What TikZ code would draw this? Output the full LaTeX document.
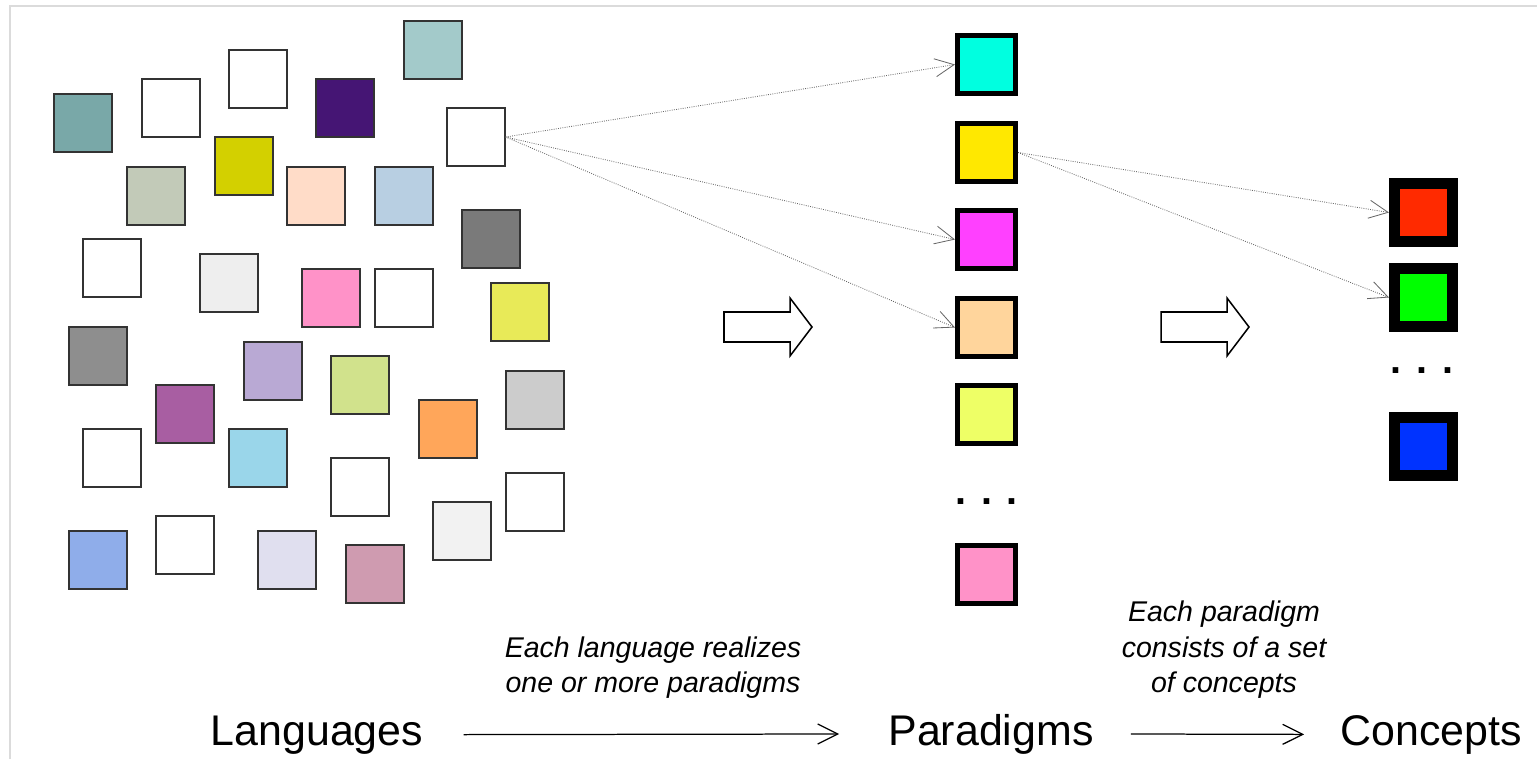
\documentclass[tikz,border=0pt]{standalone}
\usepackage{fontspec}
\setmainfont{Liberation Sans}
\usetikzlibrary{arrows.meta}

% colours of the language squares
\definecolor{lgteal}{HTML}{79A8A8}
\definecolor{lgpurple}{HTML}{451574}
\definecolor{lgmint}{HTML}{A3CACA}
\definecolor{lgsage}{HTML}{C2CAB8}
\definecolor{lgolive}{HTML}{D3D000}
\definecolor{lgsalmon}{HTML}{FFDCC8}
\definecolor{lgsteel}{HTML}{B8CFE2}
\definecolor{lggray}{HTML}{7A7A7A}
\definecolor{lgsilver}{HTML}{EEEEEE}
\definecolor{lgpink}{HTML}{FF92C8}
\definecolor{lglemon}{HTML}{E8EA58}
\definecolor{lgstone}{HTML}{8E8E8E}
\definecolor{lgplum}{HTML}{A85EA2}
\definecolor{lglilac}{HTML}{B9A9D4}
\definecolor{lglime}{HTML}{D1E28C}
\definecolor{lgorange}{HTML}{FFA65A}
\definecolor{lglight}{HTML}{CCCCCC}
\definecolor{lgsky}{HTML}{9AD6EA}
\definecolor{lgwhite}{HTML}{F2F2F2}
\definecolor{lgblue}{HTML}{8FADEA}
\definecolor{lglavender}{HTML}{E0DFEF}
\definecolor{lgrose}{HTML}{CF9BB0}
% paradigms and concepts
\definecolor{pacyan}{HTML}{00FFE0}
\definecolor{payellow}{HTML}{FFE800}
\definecolor{pamagenta}{HTML}{FF40FF}
\definecolor{papeach}{HTML}{FFD59C}
\definecolor{palime}{HTML}{EEFF66}
\definecolor{papink}{HTML}{FF92C8}
\definecolor{cored}{HTML}{FF2A00}
\definecolor{cogreen}{HTML}{00FF00}
\definecolor{coblue}{HTML}{0033FF}

\newcommand\biglbl{\fontsize{31}{37}\selectfont}
\newcommand\notelbl{\fontsize{20.6}{25.6}\selectfont\itshape}
\newcommand\dotlbl{\fontsize{28.5}{30}\selectfont\bfseries}

\tikzset{
  lang/.style={draw=black!80, line width=0.8pt, minimum size=0.58in, inner sep=0},
  para/.style={draw=black, line width=0.05in, minimum size=0.58in, inner sep=0},
  conc/.style={draw=black, line width=0.11in, minimum size=0.58in, inner sep=0},
  link/.style={densely dotted, black!60, line width=0.6pt, -{Straight Barb[length=0.19in,width=0.18in]}},
  flow/.style={line width=0.9pt, -{Straight Barb[length=0.2in,width=0.2in]}},
  bigarrow/.style={draw, line width=1.1pt, fill=white, line join=miter},
}

\begin{document}
\begin{tikzpicture}[x=0.01in, y=-0.01in]

\useasboundingbox (0,0) rectangle (1537,759);
\draw[black!14, line width=1.5pt] (10,759) -- (10,6) -- (1537,6);

% languages
\node[lang,fill=lgteal] (lang1) at (83,123) {};
\node[lang,fill=white] (lang2) at (171,108) {};
\node[lang,fill=white] (lang3) at (258,79) {};
\node[lang,fill=lgpurple] (lang4) at (345,108) {};
\node[lang,fill=lgmint] (lang5) at (433,50) {};
\node[lang,fill=white] (lang6) at (476,137) {};
\node[lang,fill=lgsage] (lang7) at (156,196) {};
\node[lang,fill=lgolive] (lang8) at (244,166) {};
\node[lang,fill=lgsalmon] (lang9) at (316,196) {};
\node[lang,fill=lgsteel] (lang10) at (404,196) {};
\node[lang,fill=lggray] (lang11) at (491,239) {};
\node[lang,fill=white] (lang12) at (112,268) {};
\node[lang,fill=lgsilver] (lang13) at (229,283) {};
\node[lang,fill=lgpink] (lang14) at (331,298) {};
\node[lang,fill=white] (lang15) at (404,298) {};
\node[lang,fill=lglemon] (lang16) at (520,312) {};
\node[lang,fill=lgstone] (lang17) at (98,356) {};
\node[lang,fill=lgplum] (lang18) at (185,414) {};
\node[lang,fill=lglilac] (lang19) at (273,371) {};
\node[lang,fill=lglime] (lang20) at (360,385) {};
\node[lang,fill=lgorange] (lang21) at (448,429) {};
\node[lang,fill=lglight] (lang22) at (535,400) {};
\node[lang,fill=white] (lang23) at (112,458) {};
\node[lang,fill=lgsky] (lang24) at (258,458) {};
\node[lang,fill=white] (lang25) at (360,487) {};
\node[lang,fill=lgwhite] (lang26) at (462,531) {};
\node[lang,fill=white] (lang27) at (535,502) {};
\node[lang,fill=lgblue] (lang28) at (98,560) {};
\node[lang,fill=white] (lang29) at (185,545) {};
\node[lang,fill=lglavender] (lang30) at (287,560) {};
\node[lang,fill=lgrose] (lang31) at (375,574) {};

% paradigms
\node[para,fill=pacyan] (par1) at (986.5,64.5) {};
\node[para,fill=payellow] (par2) at (986.5,152.5) {};
\node[para,fill=pamagenta] (par3) at (986.5,239.5) {};
\node[para,fill=papeach] (par4) at (986.5,327.5) {};
\node[para,fill=palime] (par5) at (986.5,414.5) {};
\node[anchor=base,inner sep=0,font=\dotlbl] (pardots) at (986.5,504) {. . .};
\node[para,fill=papink] (par6) at (986.5,574.5) {};

% concepts
\node[conc,fill=cored] (con1) at (1423.5,212.5) {};
\node[conc,fill=cogreen] (con2) at (1423.5,297.5) {};
\node[anchor=base,inner sep=0,font=\dotlbl] (condots) at (1422,373) {. . .};
\node[conc,fill=coblue] (con3) at (1423.5,446.5) {};

% which paradigms / concepts
\draw[link] (lang6.east) -- (par1.west);
\draw[link] (lang6.east) -- (par3.west);
\draw[link] (lang6.east) -- (par4.west);
\draw[link] (par2.east) -- (con1.west);
\draw[link] (par2.east) -- (con2.west);

% big arrows
\draw[bigarrow] (724,312) -- (790,312) -- (790,298) -- (812,327) -- (790,356) -- (790,342) -- (724,342) -- cycle;
\draw[bigarrow] (1161,312) -- (1227,312) -- (1227,298) -- (1249,327) -- (1227,356) -- (1227,342) -- (1161,342) -- cycle;

% bottom row
\node[anchor=base,inner sep=0,font=\biglbl] (langs) at (317,745) {Languages};
\node[anchor=base,inner sep=0,font=\biglbl] (paras) at (991,745) {Paradigms};
\node[anchor=base,inner sep=0,font=\biglbl] (concs) at (1431,745) {Concepts};
\draw[flow,shorten <=0.40in,shorten >=0.49in] (langs.east) -- (paras.west);
\draw[flow,shorten <=0.37in,shorten >=0.36in] (paras.east) -- (concs.west);

% captions
\node[anchor=south,inner sep=0,align=center,font=\notelbl] (note1) at (653,699) {Each language realizes\\one or more paradigms};
\node[anchor=south,inner sep=0,align=center,font=\notelbl] (note2) at (1224,699) {Each paradigm\\consists of a set\\of concepts};

\end{tikzpicture}
\end{document}
